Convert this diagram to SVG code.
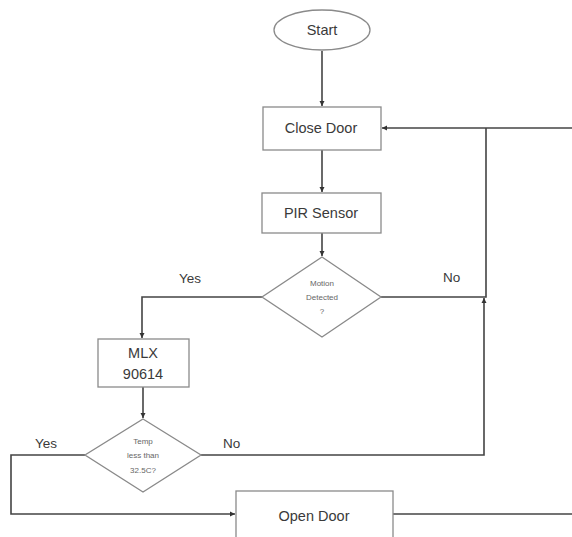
<svg xmlns="http://www.w3.org/2000/svg" width="572" height="537" viewBox="0 0 572 537">
<defs>
<marker id="ah" markerWidth="6" markerHeight="6" refX="5" refY="3" orient="auto" markerUnits="userSpaceOnUse">
<path d="M0,0.5 L5,3 L0,5.5 Z" fill="#333"/>
</marker>
<style>
.shape{fill:#fff;stroke:#8a8a8a;stroke-width:1.3}
.conn{fill:none;stroke:#444;stroke-width:1.6}
.t{font-family:"Liberation Sans",Arial,sans-serif;fill:#3a3a3a;text-anchor:middle}
.m{font-size:14.5px}
.s{font-size:8px;fill:#666}
.l{font-size:13.5px;text-anchor:start}
</style>
</defs>
<rect width="572" height="537" fill="#fff"/>
<g id="connectors">
<path class="conn" d="M322,51 V106" marker-end="url(#ah)"/>
<path class="conn" d="M322,150 V192" marker-end="url(#ah)"/>
<path class="conn" d="M322,233 V256" marker-end="url(#ah)"/>
<path class="conn" d="M572,128 H382" marker-end="url(#ah)"/>
<path class="conn" d="M381,297 H486 V128"/>
<path class="conn" d="M262,297 H142 V338" marker-end="url(#ah)"/>
<path class="conn" d="M143,387 V418" marker-end="url(#ah)"/>
<path class="conn" d="M201,455 H484 V298" marker-end="url(#ah)"/>
<path class="conn" d="M85,455 H11 V514 H235" marker-end="url(#ah)"/>
<path class="conn" d="M393,514 H572"/>
</g>
<g id="start">
<ellipse class="shape" cx="322" cy="30" rx="48" ry="20"/>
<text class="t m" x="322" y="35">Start</text>
</g>
<g id="close-door">
<rect class="shape" x="263" y="107" width="118" height="43"/>
<text class="t m" x="321" y="133">Close Door</text>
</g>
<g id="pir-sensor">
<rect class="shape" x="262" y="193" width="119" height="40"/>
<text class="t m" x="321" y="218">PIR Sensor</text>
</g>
<g id="motion-detected">
<polygon class="shape" points="322,257 381,297 322,337 262,297"/>
<text class="t s" x="322" y="286">Motion</text>
<text class="t s" x="322" y="300">Detected</text>
<text class="t s" x="322" y="314">?</text>
</g>
<g id="mlx">
<rect class="shape" x="98" y="339" width="91" height="48"/>
<text class="t m" x="143" y="358">MLX</text>
<text class="t m" x="143" y="379">90614</text>
</g>
<g id="temp-check">
<polygon class="shape" points="143,419 201,455 143,492 85,455"/>
<text class="t s" x="143" y="444">Temp</text>
<text class="t s" x="143" y="458">less than</text>
<text class="t s" x="143" y="473">32.5C?</text>
</g>
<g id="open-door">
<rect class="shape" x="236" y="491" width="157" height="55"/>
<text class="t m" x="314" y="521">Open Door</text>
</g>
<g id="labels">
<text class="t l" x="179" y="283">Yes</text>
<text class="t l" x="443" y="282">No</text>
<text class="t l" x="35" y="448">Yes</text>
<text class="t l" x="223" y="448">No</text>
</g>
</svg>
